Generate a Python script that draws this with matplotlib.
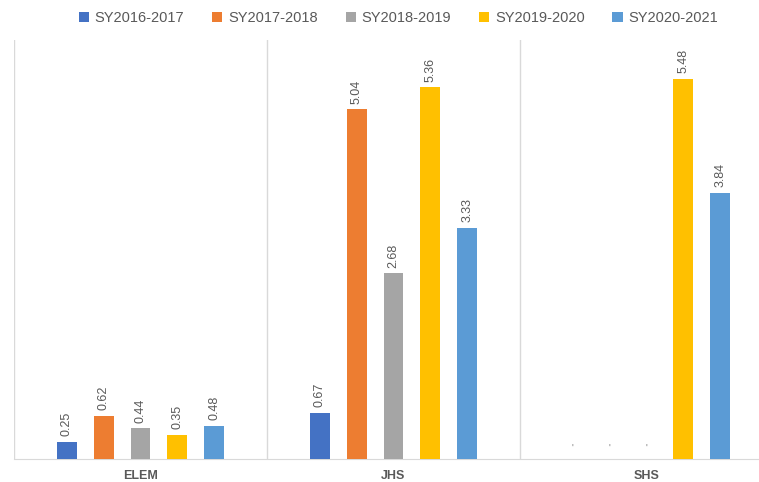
import numpy as np
import matplotlib.pyplot as plt

plt.rcParams["font.family"] = ["Liberation Sans", "DejaVu Sans"]

categories = ["ELEM", "JHS", "SHS"]
series = ["SY2016-2017", "SY2017-2018", "SY2018-2019", "SY2019-2020", "SY2020-2021"]
values = [
    [0.25, 0.67, 0.0],
    [0.62, 5.04, 0.0],
    [0.44, 2.68, 0.0],
    [0.35, 5.36, 5.48],
    [0.48, 3.33, 3.84],
]
colors = ["#4472C4", "#ED7D31", "#A5A5A5", "#FFC000", "#5B9BD5"]

fig = plt.figure(figsize=(7.59, 4.82), dpi=100)
ax = fig.add_axes([14 / 759, 23 / 482, 1.0, 419 / 482])

x = np.arange(len(categories))
step = 0.146
width = 0.079
grey = "#595959"

for i, (name, vals) in enumerate(zip(series, values)):
    pos = x + (i - 2) * step
    ax.bar(pos, vals, width=width, color=colors[i], label=name, zorder=3)
    for p, v in zip(pos, vals):
        if v > 0:
            ax.annotate(f"{v:.2f}", (p, v), xytext=(0, 4), textcoords="offset points",
                        rotation=90, ha="center", va="bottom", fontsize=9, color=grey)
        else:
            # blank cells in the source still show a tiny label mark
            ax.annotate("'", (p, v), xytext=(0, 4), textcoords="offset points",
                        ha="center", va="bottom", fontsize=7, color="#7F7F7F")

for b in [-0.5, 0.5, 1.5]:
    ax.axvline(b, color="#D9D9D9", linewidth=1, zorder=1)

ax.set_xlim(-0.5, 2.5)
ax.set_ylim(0, 6.04)
ax.set_yticks([])
ax.set_xticks(x)
ax.set_xticklabels(categories, fontsize=9, fontweight="bold", color=grey)
ax.tick_params(axis="x", length=0, pad=8)
for s in ["top", "right", "left"]:
    ax.spines[s].set_visible(False)
ax.spines["bottom"].set_color("#D9D9D9")

fig.legend(loc="center", bbox_to_anchor=(0.525, 0.962), ncol=5, frameon=False,
           fontsize=10.5, handlelength=0.7, handleheight=0.7, columnspacing=1.9,
           handletextpad=0.4, labelcolor=grey)

fig.savefig("out.png", dpi=100)
